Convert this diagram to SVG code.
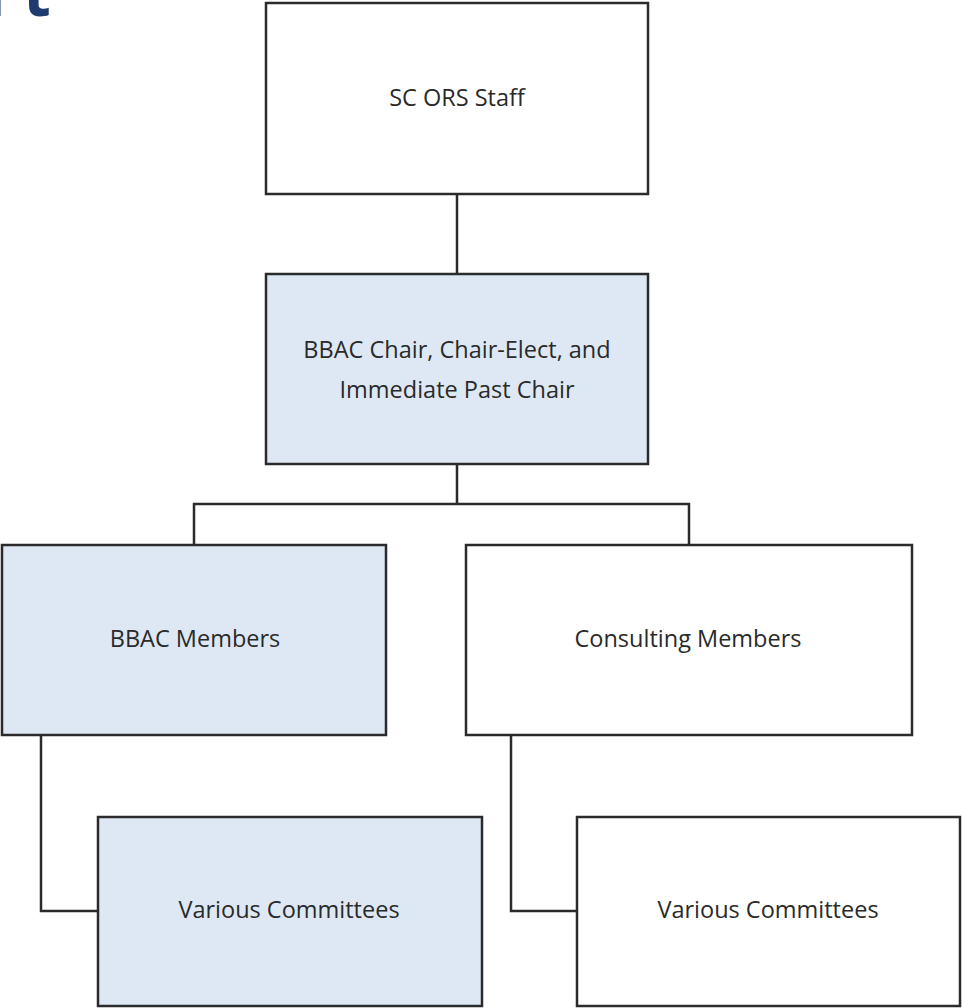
<svg xmlns="http://www.w3.org/2000/svg" width="962" height="1008" viewBox="0 0 962 1008">
<style>
.box{stroke:#2b2b2b;stroke-width:2.5}
.w{fill:#ffffff}
.b{fill:#dde8f4}
.t{font-family:"Open Sans","Liberation Sans",sans-serif;font-size:23.5px;fill:#2a2a2a;text-anchor:middle}
.c{fill:none;stroke:#2b2b2b;stroke-width:2.5}
</style>
<rect width="962" height="1008" fill="#ffffff"/>
<text x="-14" y="16" font-family="Open Sans, Liberation Sans, sans-serif" font-weight="bold" font-size="64" letter-spacing="8" fill="#1f3a6e">rt</text>
<g id="connectors">
<path class="c" d="M457 194V274"/>
<path class="c" d="M457 464V504M194 545V504H689V545"/>
<path class="c" d="M41 735V911H98"/>
<path class="c" d="M511 735V911H577"/>
</g>
<g id="n-staff"><rect class="box w" x="266" y="3" width="382" height="191"/><text class="t" x="457" y="106">SC ORS Staff</text></g>
<g id="n-chair"><rect class="box b" x="266" y="274" width="382" height="190"/><text class="t" x="457" y="358">BBAC Chair, Chair-Elect, and</text><text class="t" x="457" y="398">Immediate Past Chair</text></g>
<g id="n-members"><rect class="box b" x="2" y="545" width="384" height="190"/><text class="t" x="195" y="647">BBAC Members</text></g>
<g id="n-consulting"><rect class="box w" x="466" y="545" width="446" height="190"/><text class="t" x="688" y="647">Consulting Members</text></g>
<g id="n-comm-left"><rect class="box b" x="98" y="817" width="384" height="189"/><text class="t" x="289" y="918">Various Committees</text></g>
<g id="n-comm-right"><rect class="box w" x="577" y="817" width="383" height="189"/><text class="t" x="768" y="918">Various Committees</text></g>
</svg>
